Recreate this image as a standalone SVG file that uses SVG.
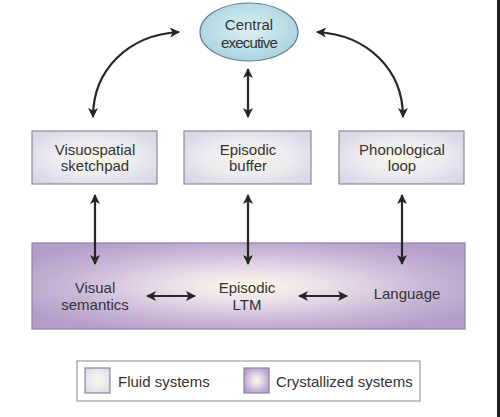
<svg xmlns="http://www.w3.org/2000/svg" width="500" height="417" viewBox="0 0 500 417">
<defs>
<style>
text{font-family:"Liberation Sans",Arial,sans-serif;font-size:15px;fill:#333;text-anchor:middle}
.fluid{fill:url(#gFluid);stroke:#8a8a96;stroke-width:1.2}
.cryst{fill:url(#gCryst);stroke:#8f80a6;stroke-width:1.2}
.conn{fill:none;stroke:#262626;stroke-width:2.2;marker-start:url(#ah);marker-end:url(#ah)}
</style>
<radialGradient id="gFluid" cx="0.5" cy="0.5" r="0.6">
<stop offset="0" stop-color="#fbf7e6"/>
<stop offset="0.55" stop-color="#ecebf1"/>
<stop offset="1" stop-color="#d9d8e8"/>
</radialGradient>
<radialGradient id="gCryst" cx="0.5" cy="0.5" r="0.6">
<stop offset="0" stop-color="#fdf8e6"/>
<stop offset="0.3" stop-color="#ebdfe9"/>
<stop offset="0.7" stop-color="#c8b5d6"/>
<stop offset="1" stop-color="#b49dc9"/>
</radialGradient>
<radialGradient id="gEll" cx="0.5" cy="0.45" r="0.6">
<stop offset="0" stop-color="#dcf0f4"/>
<stop offset="1" stop-color="#a6d1de"/>
</radialGradient>
<marker id="ah" viewBox="0 0 10 10" refX="9" refY="5" markerUnits="userSpaceOnUse" markerWidth="11" markerHeight="10" orient="auto-start-reverse">
<path d="M0,0 L10,5 L0,10 L2.5,5 z" fill="#262626"/>
</marker>
</defs>
<rect x="0" y="0" width="500" height="417" fill="#ffffff"/>
<rect x="497" y="0" width="3" height="417" fill="#222"/>

<g id="crystallized">
<rect class="cryst" x="32" y="243" width="433" height="86"/>
</g>

<g id="connectors">
<path class="conn" d="M93,117 C93,70 128,35 179,32"/>
<path class="conn" d="M403,117 C403,70 368,35 317,32"/>
<line class="conn" x1="248" y1="69" x2="248" y2="117"/>
<line class="conn" x1="95" y1="195" x2="95" y2="264"/>
<line class="conn" x1="248" y1="195" x2="248" y2="264"/>
<line class="conn" x1="402" y1="195" x2="402" y2="264"/>
<line class="conn" x1="147" y1="296" x2="195" y2="296"/>
<line class="conn" x1="299" y1="296" x2="347" y2="296"/>
</g>

<g id="central-executive">
<ellipse cx="249" cy="32" rx="49" ry="29" fill="url(#gEll)" stroke="#5f8292" stroke-width="1.2"/>
<text x="249" y="30">Central</text>
<text x="249" y="48" letter-spacing="-0.8">executive</text>
</g>

<g id="visuospatial">
<rect class="fluid" x="32" y="131" width="125" height="53"/>
<text x="95" y="155">Visuospatial</text>
<text x="95" y="171">sketchpad</text>
</g>

<g id="episodic-buffer">
<rect class="fluid" x="184" y="131" width="127" height="53"/>
<text x="248" y="155">Episodic</text>
<text x="248" y="171">buffer</text>
</g>

<g id="phonological">
<rect class="fluid" x="339" y="131" width="125" height="53"/>
<text x="402" y="155">Phonological</text>
<text x="402" y="171">loop</text>
</g>

<g id="visual-semantics">
<text x="95" y="293">Visual</text>
<text x="95" y="310">semantics</text>
</g>

<g id="episodic-ltm">
<text x="247" y="293">Episodic</text>
<text x="247" y="310">LTM</text>
</g>

<g id="language">
<text x="407" y="299">Language</text>
</g>

<g id="legend">
<rect x="77" y="361" width="343" height="40" fill="#fff" stroke="#8a8a8a" stroke-width="1"/>
<rect class="fluid" x="85" y="368" width="25" height="25"/>
<text x="118" y="387" style="text-anchor:start">Fluid systems</text>
<rect class="cryst" x="244" y="368" width="25" height="25"/>
<text x="276" y="387" style="text-anchor:start">Crystallized systems</text>
</g>
</svg>
